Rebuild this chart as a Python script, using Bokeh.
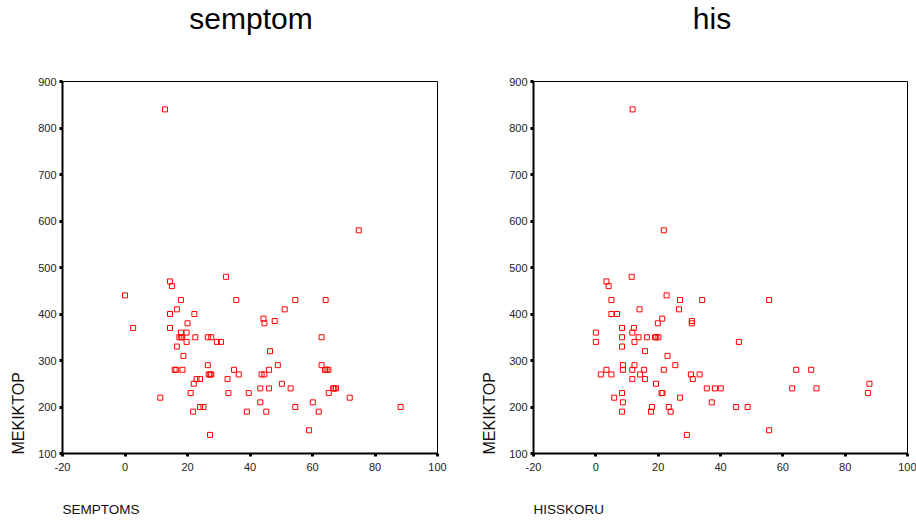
import math

from bokeh.embed import file_html
from bokeh.layouts import row
from bokeh.models import FixedTicker, Label, Range1d
from bokeh.plotting import figure
from bokeh.resources import INLINE

# SEMPTOMS vs MEKIKTOP
semptoms = [0, 2.6, 11.3, 12.8, 14.4, 15.0, 17.9, 14.4, 16.6, 14.4, 22.2, 20.0,
            17.9, 19.7, 17.4, 18.0, 18.3, 22.5, 19.7, 16.6, 18.7, 15.9, 16.4, 18.4,
            22.0, 22.9, 24.0, 21.0, 21.8, 24.0, 25.1, 27.2, 26.5, 26.5, 27.6, 26.8,
            27.3, 27.6, 29.4, 30.7, 32.3, 32.8, 33.1, 35.6, 34.9, 36.4, 39.6, 39.0,
            43.3, 43.3, 43.7, 44.6, 44.3, 44.6, 45.2, 46.1, 46.1, 46.4, 47.9, 48.9,
            50.2, 51.1, 53.0, 54.5, 54.5, 58.9, 60.1, 62.0, 62.9, 62.9, 64.2, 64.0,
            64.5, 65.1, 65.2, 66.6, 67.0, 67.5, 71.9, 74.8, 88.2]
mekiktop_s = [440, 370, 220, 840, 470, 460, 430, 400, 410, 370, 400, 380,
              360, 360, 350, 350, 350, 350, 340, 330, 310, 280, 280, 280,
              250, 260, 260, 230, 190, 200, 200, 140, 290, 350, 350, 270,
              270, 270, 340, 340, 480, 260, 230, 430, 280, 270, 230, 190,
              240, 210, 270, 270, 390, 380, 190, 280, 240, 320, 385, 290,
              250, 410, 240, 430, 200, 150, 210, 190, 350, 290, 430, 280,
              280, 280, 230, 240, 240, 240, 220, 580, 200]

# HISSKORU vs MEKIKTOP
hisskoru = [0, 0, 1.6, 3.4, 4.1, 5.0, 5.0, 6.8, 3.4, 5.0, 5.9, 8.4,
            8.4, 8.4, 8.7, 8.7, 8.4, 8.7, 8.4, 11.5, 11.8, 11.7, 12.2, 12.4,
            12.4, 11.7, 11.7, 14.0, 13.7, 14.2, 15.5, 15.8, 15.8, 16.4, 18.0, 17.7,
            19.0, 19.4, 20.1, 19.9, 21.3, 19.3, 21.1, 21.4, 21.8, 21.8, 22.7, 23.0,
            23.4, 24.0, 25.5, 26.7, 27.0, 27.0, 29.2, 30.5, 31.1, 30.8, 30.8, 33.3,
            34.1, 35.6, 38.2, 40.1, 37.2, 45.0, 48.7, 45.9, 55.6, 55.6, 63.0, 64.3,
            69.1, 70.8, 87.8, 87.3]
mekiktop_h = [360, 340, 270, 470, 460, 430, 400, 400, 280, 270, 220, 370,
              350, 330, 290, 280, 230, 210, 190, 480, 840, 360, 370, 340,
              290, 280, 260, 410, 350, 270, 280, 320, 260, 350, 200, 190,
              350, 350, 350, 380, 390, 250, 230, 230, 280, 580, 440, 310,
              200, 190, 290, 410, 430, 220, 140, 270, 260, 385, 380, 270,
              430, 240, 240, 240, 210, 200, 200, 340, 430, 150, 240, 280,
              280, 240, 250, 230]

x_ticks = [-20, 0, 20, 40, 60, 80, 100]
y_ticks = [100, 200, 300, 400, 500, 600, 700, 800, 900]

SANS = "Liberation Sans"


def scatter_panel(title, x_label, xs, ys, width, left, right, top, bottom, title_cx):
    p = figure(width=width, height=527, output_backend="svg", toolbar_location=None,
               x_range=Range1d(-20, 100), y_range=Range1d(100, 900),
               min_border_left=left, min_border_right=right,
               min_border_top=top, min_border_bottom=bottom)
    p.grid.visible = False
    p.outline_line_color = "black"
    p.outline_line_width = 1
    p.background_fill_color = "white"
    p.border_fill_color = "white"

    p.xaxis.ticker = FixedTicker(ticks=x_ticks)
    p.yaxis.ticker = FixedTicker(ticks=y_ticks)
    p.xaxis.major_label_overrides = {t: str(t) for t in x_ticks}
    for ax in (p.xaxis[0], p.yaxis[0]):
        ax.axis_line_color = "black"
        ax.axis_line_width = 2
        ax.major_tick_line_color = "black"
        ax.major_tick_line_width = 3
        ax.major_tick_out = 3
        ax.major_tick_in = 0
        ax.minor_tick_line_color = None
        ax.major_label_text_font = SANS
        ax.major_label_text_font_size = "11px"
        ax.major_label_text_color = "#222222"
    p.xaxis.major_label_standoff = 6
    p.yaxis.major_label_standoff = 3

    p.scatter(xs, ys, marker="square", size=5, fill_color=None,
              line_color="red", line_width=1)

    # Texts around the frame, in canvas pixels (origin at the canvas top-left).
    p.add_layout(Label(x=title_cx, y=18, x_units="canvas", y_units="canvas",
                       text=title, text_align="center", text_baseline="alphabetic",
                       text_font=SANS, text_font_size="30px", text_color="black"),
                 "above")
    p.add_layout(Label(x=left, y=509, x_units="canvas", y_units="canvas",
                       text=x_label, text_align="left", text_baseline="alphabetic",
                       text_font=SANS, text_font_size="13.5px", text_color="#111111"),
                 "below")
    p.add_layout(Label(x=left - 44, y=527 - bottom + 1, x_units="canvas", y_units="canvas",
                       text="MEKIKTOP", angle=math.pi / 2, text_align="left",
                       text_baseline="middle", text_font=SANS, text_font_size="16px",
                       text_color="#111111"),
                 "left")
    return p


p1 = scatter_panel("semptom", "SEMPTOMS", semptoms, mekiktop_s,
                   width=470, left=62, right=33, top=81, bottom=74, title_cx=250.5)
p2 = scatter_panel("his", "HISSKORU", hisskoru, mekiktop_h,
                   width=446, left=63, right=9, top=77, bottom=74, title_cx=241.5)

layout = row(p1, p2)
open("out.html", "w").write(file_html(layout, INLINE))
